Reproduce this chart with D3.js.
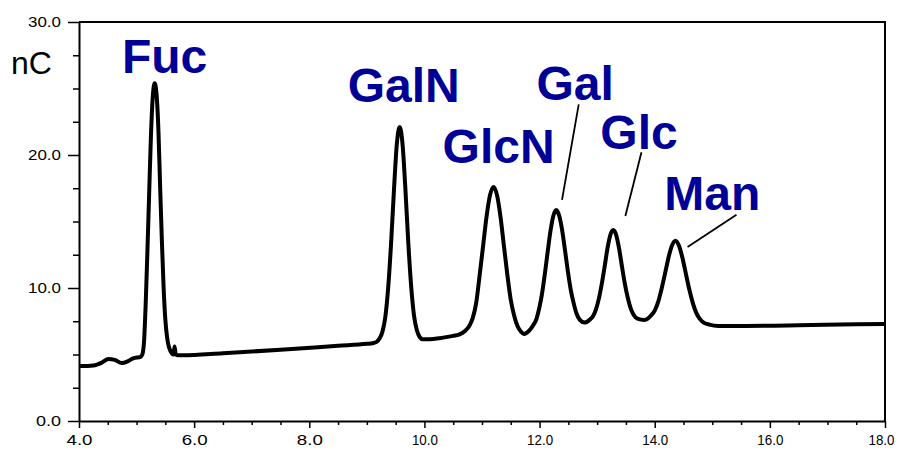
<!DOCTYPE html>
<html>
<head>
<meta charset="utf-8">
<script src="https://cdn.jsdelivr.net/npm/d3@7"></script>
<style>
  body { margin: 0; background: #fff; }
  svg { display: block; font-family: "Liberation Sans", Arial, sans-serif; }
</style>
</head>
<body>
<div id="chart"></div>
<script>
// retention time (min)
const times = [
  4.0, 4.25, 4.4, 4.51, 4.62, 4.74, 4.85, 4.94, 5.02, 5.06, 5.10, 5.13, 5.16, 5.19, 5.22, 5.25, 5.28, 5.315,
  5.35, 5.38, 5.41, 5.44, 5.47, 5.50, 5.53, 5.56, 5.59, 5.62, 5.64, 5.66, 5.68, 5.72, 5.8,
  6.5, 7.5, 8.5, 9.0, 9.1, 9.17, 9.22, 9.27, 9.32, 9.37, 9.42, 9.47, 9.52, 9.57,
  9.62, 9.67, 9.72, 9.77, 9.82, 9.87, 9.92, 9.97, 10.05, 10.3, 10.5, 10.6,
  10.7, 10.78, 10.84, 10.9, 10.96, 11.02, 11.08, 11.14, 11.2, 11.26, 11.32, 11.38, 11.44, 11.5, 11.56, 11.62, 11.68, 11.73,
  11.82, 11.89, 11.94, 11.99, 12.04, 12.09, 12.14, 12.19, 12.24, 12.29, 12.34, 12.39, 12.44, 12.49, 12.54, 12.59, 12.64, 12.7, 12.78,
  12.88, 12.93, 12.98, 13.03, 13.08, 13.13, 13.18, 13.23, 13.28, 13.33, 13.38, 13.43, 13.48, 13.53, 13.58, 13.63, 13.7, 13.82,
  13.88, 13.94, 14.0, 14.06, 14.12, 14.18, 14.24, 14.3, 14.36, 14.42, 14.48, 14.54, 14.6, 14.66, 14.72, 14.78, 14.85, 14.95,
  15.1, 15.5, 16.5, 17.5, 18.0
];
// detector response (nC) at those times
const signal = [
  4.13, 4.18, 4.4, 4.66, 4.6, 4.36, 4.5, 4.71, 4.78, 4.8, 5.0, 6.0, 9.0, 13.0, 17.3, 21.5, 24.3, 25.4,
  24.4, 21.8, 17.5, 13.5, 10.0, 7.6, 6.3, 5.6, 5.25, 5.05, 5.0, 5.6, 5.0, 4.95, 4.95,
  5.1, 5.35, 5.65, 5.8, 5.85, 5.95, 6.2, 6.7, 7.8, 10.0, 13.3, 17.3, 20.8, 22.1,
  20.8, 17.4, 13.4, 10.1, 7.9, 6.8, 6.3, 6.15, 6.15, 6.25, 6.4, 6.5,
  6.75, 7.15, 7.75, 8.9, 11.0, 13.2, 15.4, 17.0, 17.6, 17.0, 15.4, 13.2, 11.0, 9.1, 7.9, 7.1, 6.7, 6.55,
  6.8, 7.2, 7.6, 8.4, 9.5, 11.0, 12.7, 14.3, 15.43, 15.86, 15.45, 14.4, 12.9, 11.3, 9.9, 8.9, 8.1, 7.6, 7.4,
  7.65, 7.9, 8.4, 9.2, 10.3, 11.6, 13.0, 14.0, 14.36, 14.0, 13.0, 11.65, 10.35, 9.3, 8.5, 8.0, 7.7, 7.6,
  7.7, 7.95, 8.3, 8.95, 9.95, 11.1, 12.3, 13.2, 13.56, 13.2, 12.3, 11.1, 9.9, 8.9, 8.15, 7.7, 7.4, 7.25,
  7.15, 7.15, 7.2, 7.28, 7.3
];

const peakNames = ["Fuc", "GalN", "GlcN", "Gal", "Glc", "Man"];
// label anchor (start of text, baseline) in data units
const labelX = [4.746, 8.667, 10.315, 11.946, 13.056, 14.167];
const labelY = [26.17, 24.02, 19.4, 24.1, 20.45, 15.83];
// leader lines for the crowded labels: [x1, y1, x2, y2] in data units
const leaders = [
  [12.68, 23.81, 12.39, 16.62],
  [13.77, 20.2, 13.49, 15.42],
  [15.42, 15.5, 14.57, 13.08]
];

const xTicks = [4, 6, 8, 10, 12, 14, 16, 18];
const yTicks = [0, 10, 20, 30];

const width = 899, height = 452;
const margin = { top: 22, right: 14, bottom: 31, left: 79 };

const svg = d3.select("#chart").append("svg")
  .attr("width", width)
  .attr("height", height);

const x = d3.scaleLinear().domain([4, 18]).range([margin.left, width - margin.right]);
const y = d3.scaleLinear().domain([0, 30]).range([height - margin.bottom, margin.top]);

const fmt = d3.format(".1f");

// minor ticks
const xMinor = d3.range(4, 18.01, 0.5).filter(v => v % 2 !== 0);
const yMinor = d3.range(0, 30.01, 2.5).filter(v => v % 10 !== 0);

svg.append("g")
  .attr("transform", `translate(0,${y(0)})`)
  .call(d3.axisBottom(x).tickValues(xMinor).tickSize(4).tickFormat(""))
  .call(g => g.select(".domain").remove())
  .selectAll("line").attr("stroke-width", 1.5);

svg.append("g")
  .attr("transform", `translate(${x(4)},0)`)
  .call(d3.axisLeft(y).tickValues(yMinor).tickSize(6).tickFormat(""))
  .call(g => g.select(".domain").remove())
  .selectAll("line").attr("stroke-width", 1.5);

const xAxis = svg.append("g")
  .attr("transform", `translate(0,${y(0)})`)
  .call(d3.axisBottom(x).tickValues(xTicks).tickSize(7).tickSizeOuter(0).tickPadding(6).tickFormat(fmt));
xAxis.select(".domain").attr("stroke-width", 2);
xAxis.selectAll(".tick line").attr("stroke-width", 1.5);
xAxis.selectAll("text")
  .attr("font-size", 15)
  .attr("fill", "#000")
  .attr("textLength", 26)
  .attr("lengthAdjust", "spacingAndGlyphs")
  .attr("dx", d => d === 18 ? -4 : 0);

const yAxis = svg.append("g")
  .attr("transform", `translate(${x(4)},0)`)
  .call(d3.axisLeft(y).tickValues(yTicks).tickSize(11).tickSizeOuter(0).tickPadding(7).tickFormat(fmt));
yAxis.select(".domain").attr("stroke-width", 2);
yAxis.selectAll(".tick line").attr("stroke-width", 1.5);
yAxis.selectAll("text")
  .attr("font-size", 15)
  .attr("fill", "#000")
  .attr("textLength", d => d === 0 ? 25 : 33)
  .attr("lengthAdjust", "spacingAndGlyphs");

// top and right frame
svg.append("path")
  .attr("d", `M${x(4)},${y(30)}H${x(18)}V${y(0)}`)
  .attr("fill", "none")
  .attr("stroke", "#000")
  .attr("stroke-width", 2);

svg.append("text")
  .attr("x", 11)
  .attr("y", 74)
  .attr("font-size", 32)
  .attr("fill", "#000")
  .text("nC");

// trace
const points = times.map((t, i) => [t, signal[i]]);
const line = d3.line()
  .x(d => x(d[0]))
  .y(d => y(d[1]))
  .curve(d3.curveMonotoneX);

svg.append("path")
  .datum(points)
  .attr("d", line)
  .attr("fill", "none")
  .attr("stroke", "#000")
  .attr("stroke-width", 4)
  .attr("stroke-linejoin", "round");

// leader lines
svg.selectAll(".leader")
  .data(leaders)
  .join("line")
  .attr("class", "leader")
  .attr("x1", d => x(d[0]))
  .attr("y1", d => y(d[1]))
  .attr("x2", d => x(d[2]))
  .attr("y2", d => y(d[3]))
  .attr("stroke", "#000")
  .attr("stroke-width", 1.8);

// peak labels
svg.selectAll(".peak-label")
  .data(peakNames)
  .join("text")
  .attr("class", "peak-label")
  .attr("x", (d, i) => x(labelX[i]))
  .attr("y", (d, i) => y(labelY[i]))
  .attr("font-size", 48)
  .attr("font-weight", "bold")
  .attr("fill", "#000096")
  .text(d => d);
</script>
</body>
</html>
